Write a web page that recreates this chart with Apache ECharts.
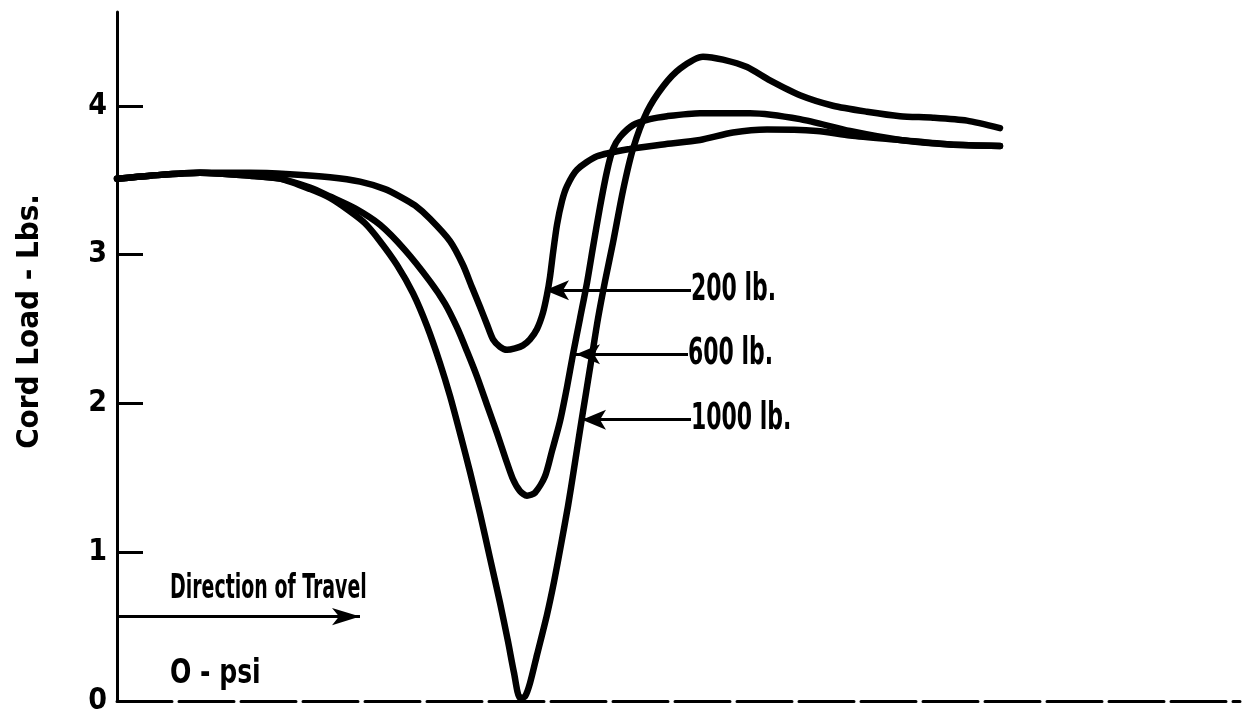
<!DOCTYPE html>
<html>
<head>
<meta charset="utf-8">
<script src="https://cdn.jsdelivr.net/npm/echarts@6/dist/echarts.min.js"></script>
<style>
  html, body { margin: 0; padding: 0; background: #fff; }
  #chart { width: 1243px; height: 716px; }
</style>
</head>
<body>
<div id="chart"></div>
<script>
// Cord load along the footprint for three vertical loads (0 psi inflation).
// x: travel distance (arbitrary units), y: cord load in lbs.
const yTicks = [0, 1, 2, 3, 4];

const load200 = [
  [0, 3.51], [3.3, 3.53], [8.3, 3.55], [13.3, 3.55], [17.3, 3.54], [21.3, 3.52],
  [24.3, 3.49], [26.8, 3.44], [28.3, 3.39], [29.8, 3.33], [31.3, 3.24], [33.3, 3.09],
  [34.6, 2.93], [35.5, 2.78], [36.3, 2.65], [37.0, 2.53], [37.6, 2.43], [38.3, 2.38],
  [39.0, 2.36], [39.8, 2.37], [40.6, 2.39], [41.3, 2.43], [42.0, 2.5], [42.6, 2.61],
  [43.0, 2.73], [43.3, 2.85], [43.6, 3.01], [44.0, 3.2], [44.5, 3.36], [45.0, 3.46],
  [46.0, 3.57], [48.0, 3.66], [51.3, 3.71], [54.6, 3.74], [58.3, 3.77], [61.6, 3.82],
  [65.0, 3.84], [70.0, 3.83], [73.3, 3.8], [78.3, 3.77], [83.3, 3.74], [88.3, 3.73]
];

const load600 = [
  [0, 3.51], [3.3, 3.53], [8.3, 3.55], [13.3, 3.53], [16.3, 3.51], [19.3, 3.45],
  [21.3, 3.39], [23.8, 3.31], [26.3, 3.2], [28.8, 3.03], [31.3, 2.82], [32.8, 2.67],
  [34.0, 2.51], [35.0, 2.35], [36.0, 2.18], [37.0, 1.99], [38.0, 1.8], [38.9, 1.62],
  [39.6, 1.49], [40.3, 1.41], [41.0, 1.38], [41.8, 1.4], [42.8, 1.51], [43.5, 1.68],
  [44.3, 1.88], [45.0, 2.11], [45.6, 2.33], [46.3, 2.57], [47.0, 2.81], [47.6, 3.05],
  [48.3, 3.32], [49.0, 3.56], [49.6, 3.71], [50.3, 3.79], [51.6, 3.87],
  [53.3, 3.91], [55.0, 3.93], [58.3, 3.95], [63.3, 3.95], [68.3, 3.91], [73.3, 3.83],
  [78.3, 3.77], [83.3, 3.74], [88.3, 3.73]
];

const load1000 = [
  [0, 3.51], [3.3, 3.53], [8.3, 3.55], [13.3, 3.53], [16.3, 3.51], [19.3, 3.44],
  [21.3, 3.38], [23.3, 3.29], [24.8, 3.21], [26.3, 3.09], [28.0, 2.93], [29.6, 2.74],
  [31.0, 2.52], [32.3, 2.27], [33.3, 2.05], [34.3, 1.8], [35.3, 1.54], [36.3, 1.26],
  [37.3, 0.96], [38.3, 0.66], [39.1, 0.4], [39.7, 0.19], [40.3, 0.02], [40.8, 0.03],
  [41.3, 0.12], [42.0, 0.31], [43.0, 0.58], [43.7, 0.8], [44.4, 1.05], [45.1, 1.31],
  [45.7, 1.56], [46.3, 1.82], [46.9, 2.07], [47.5, 2.32], [48.1, 2.57], [48.8, 2.82],
  [49.6, 3.08], [50.6, 3.43], [51.6, 3.71], [53.0, 3.96], [54.6, 4.13], [56.3, 4.25],
  [58.6, 4.33], [60.6, 4.31], [63.0, 4.26], [65.3, 4.17], [68.3, 4.07], [71.6, 4.0],
  [75.0, 3.96], [78.3, 3.93], [81.6, 3.92], [85.0, 3.9], [88.3, 3.85]
];

// Callouts: label text, where the leader starts (at the text) and where it points
const callouts = [
  { text: '200 lb.',  from: [57.4, 2.76], to: [42.8, 2.76] },
  { text: '600 lb.',  from: [57.1, 2.33], to: [45.9, 2.33] },
  { text: '1000 lb.', from: [57.4, 1.89], to: [46.5, 1.89] }
];

const travelArrow = { from: [0, 0.567], to: [24.3, 0.567] };
const travelText = { text: 'Direction of Travel', at: [5.3, 0.75] };
const psiText = { text: 'O - psi', at: [5.3, 0.18] };

const FONT = "'DejaVu Sans Condensed', 'DejaVu Sans', sans-serif";

function curve(name, data) {
  return {
    name, type: 'line', data,
    smooth: 0.25, showSymbol: false, symbol: 'none',
    lineStyle: { color: '#000', width: 6.5, cap: 'round', join: 'round' },
    z: 3, silent: true
  };
}

const chart = echarts.init(document.getElementById('chart'), null, { renderer: 'canvas' });

const option = {
  animation: false,
  backgroundColor: '#fff',
  grid: { left: 117, right: 3, top: 12, bottom: 9, containLabel: false },
  xAxis: {
    type: 'value', min: 0, max: 112.3,
    axisLine: { show: true, onZero: true, lineStyle: { color: '#000', width: 3, type: [55, 7] } },
    axisTick: { show: false }, axisLabel: { show: false }, splitLine: { show: false }
  },
  yAxis: {
    type: 'value', min: 0, max: 4.63, interval: 1,
    name: 'Cord Load - Lbs.', nameLocation: 'middle', nameRotate: 90, nameGap: 72,
    nameTextStyle: { fontFamily: FONT, fontSize: 31, fontWeight: 'bold', color: '#000',
                     padding: [0, 0, 0, 70] },
    axisLine: { show: true, lineStyle: { color: '#000', width: 3 } },
    axisTick: { show: true, inside: true, length: 26, customValues: yTicks,
                lineStyle: { color: '#000', width: 3 } },
    axisLabel: { show: true, customValues: yTicks, margin: 10, fontFamily: FONT,
                 fontSize: 30, fontWeight: 'bold', color: '#000' },
    splitLine: { show: false }
  },
  series: [
    curve('200 lb.', load200),
    curve('600 lb.', load600),
    curve('1000 lb.', load1000),
    {
      // leader arrows and the direction-of-travel arrow
      type: 'line', data: [], silent: true,
      markLine: {
        silent: true, animation: false,
        label: { show: false },
        lineStyle: { color: '#000', width: 3, type: 'solid', opacity: 1 },
        data: callouts.map(c => [
          { coord: c.from, symbol: 'none' },
          { coord: c.to, symbol: 'arrow', symbolSize: [15, 24] }
        ]).concat([[
          { coord: travelArrow.from, symbol: 'none' },
          { coord: travelArrow.to, symbol: 'arrow', symbolSize: [13, 28] }
        ]])
      }
    }
  ]
};

chart.setOption(option);

// Condensed text labels, anchored at data coordinates
function textAt(at, text, size, squeeze) {
  const p = chart.convertToPixel({ gridIndex: 0 }, at);
  return {
    type: 'text', x: p[0], y: p[1], scaleX: squeeze, silent: true, z: 10,
    style: { text, fill: '#000', font: 'bold ' + size + 'px ' + FONT,
             textAlign: 'left', textVerticalAlign: 'middle' }
  };
}

const labels = callouts.map(c => textAt(c.from, c.text, 37, 0.66))
  .concat([
    textAt(travelText.at, travelText.text, 34, 0.62),
    textAt(psiText.at, psiText.text, 34, 0.82)
  ]);

chart.setOption({ graphic: labels });
</script>
</body>
</html>
